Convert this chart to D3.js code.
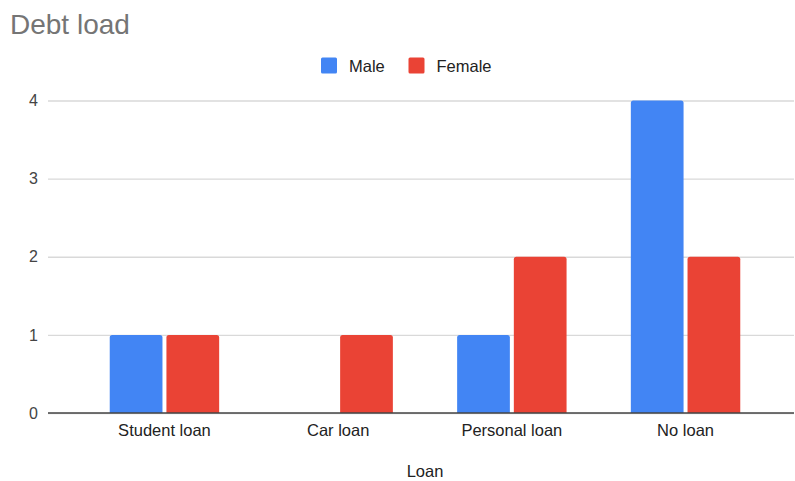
<!DOCTYPE html>
<html>
<head>
<meta charset="utf-8">
<script src="https://cdn.jsdelivr.net/npm/d3@7"></script>
<style>
  html, body { margin: 0; padding: 0; background: #fff; }
  svg { display: block; font-family: Arial, "Liberation Sans", sans-serif; }
</style>
</head>
<body>
<svg id="chart" width="795" height="481"></svg>
<script>
// Debt load by loan type, split by gender
const categories = ["Student loan", "Car loan", "Personal loan", "No loan"];
const seriesNames = ["Male", "Female"];
const maleValues = [1, 0, 1, 4];
const femaleValues = [1, 1, 2, 2];
const yTicks = [0, 1, 2, 3, 4];
const colors = ["#4285F4", "#EA4335"];

const svg = d3.select("#chart");
const plotLeft = 48, plotRight = 794;
const yTop = 100.5, yBottom = 413;
const FONT = "Arial, 'Liberation Sans', sans-serif";

const rows = categories.map((c, i) => ({ cat: c, values: [maleValues[i], femaleValues[i]] }));

// Title
svg.append("text")
  .attr("x", 10).attr("y", 34)
  .attr("font-size", 28).attr("fill", "#757575")
  .text("Debt load");

// Scales
const x = d3.scaleBand().domain(categories).range([77.6, 772.4])
  .paddingInner(0.37).paddingOuter(0.185);
const xs = d3.scaleBand().domain(seriesNames).range([0, x.bandwidth()]).paddingInner(0.07);
const y = d3.scaleLinear().domain([0, 4]).range([yBottom, yTop]);

// Gridlines and y labels
const yAxis = d3.axisLeft(y).tickValues(yTicks).tickSize(-(plotRight - plotLeft)).tickPadding(10).tickFormat(d3.format("d"));
const gy = svg.append("g").attr("transform", `translate(${plotLeft},0)`).call(yAxis);
gy.select(".domain").remove();
gy.selectAll(".tick line").attr("stroke", "#d9d9d9").attr("stroke-width", 1.3);
gy.selectAll(".tick text").attr("font-size", 16).attr("fill", "#444").attr("font-family", FONT);

// Bars with slightly rounded tops
function barPath(x0, w, yv, y0, r) {
  const h = y0 - yv;
  if (h <= 0) return "";
  r = Math.min(r, h, w / 2);
  return `M${x0},${y0}V${yv + r}Q${x0},${yv} ${x0 + r},${yv}H${x0 + w - r}Q${x0 + w},${yv} ${x0 + w},${yv + r}V${y0}Z`;
}

const groups = svg.append("g").selectAll("g").data(rows).join("g")
  .attr("transform", d => `translate(${x(d.cat)},0)`);
groups.selectAll("path").data(d => d.values.map((v, i) => ({ key: seriesNames[i], v, i })))
  .join("path")
  .attr("fill", d => colors[d.i])
  .attr("d", d => barPath(xs(d.key), xs.bandwidth(), y(d.v), y(0), 2.5));

// Baseline
svg.append("line")
  .attr("x1", plotLeft).attr("x2", plotRight)
  .attr("y1", y(0)).attr("y2", y(0))
  .attr("stroke", "#444").attr("stroke-width", 1.5);

// X category labels
const xAxis = d3.axisBottom(x).tickSize(0).tickPadding(11);
const gx = svg.append("g").attr("transform", `translate(0,${y(0)})`).call(xAxis);
gx.select(".domain").remove();
gx.selectAll(".tick text").attr("font-size", 16.5).attr("fill", "#222").attr("font-family", FONT);

// X axis title
svg.append("text")
  .attr("x", 425).attr("y", 477)
  .attr("text-anchor", "middle")
  .attr("font-size", 16.5).attr("fill", "#222")
  .text("Loan");

// Legend
const legendItems = [
  { name: seriesNames[0], color: colors[0], x: 321 },
  { name: seriesNames[1], color: colors[1], x: 408.5 }
];
const lg = svg.append("g");
legendItems.forEach(it => {
  lg.append("rect").attr("x", it.x).attr("y", 57.5).attr("width", 16).attr("height", 16)
    .attr("rx", 1.5).attr("fill", it.color);
  lg.append("text").attr("x", it.x + 28).attr("y", 71.5)
    .attr("font-size", 16.5).attr("fill", "#222").text(it.name);
});
</script>
</body>
</html>
